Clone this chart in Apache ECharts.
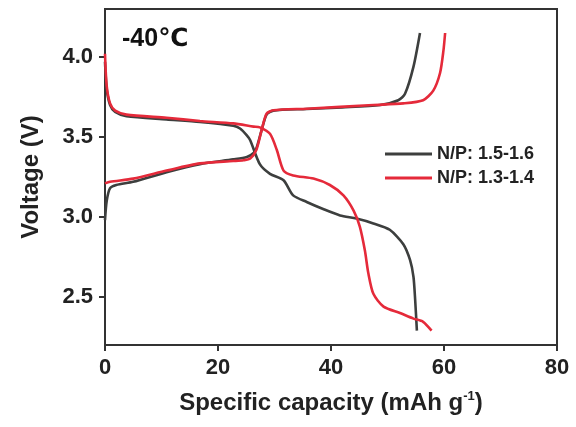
<!DOCTYPE html>
<html>
<head>
<meta charset="utf-8">
<script src="https://cdn.jsdelivr.net/npm/echarts@6/dist/echarts.min.js"></script>
<style>html,body{margin:0;padding:0;background:#fff}#c{width:576px;height:427px}</style>
</head>
<body>
<div id="c"></div>
<script>
// Data: [specific capacity (mAh/g), voltage (V)]
const seriesNames = ['N/P: 1.5-1.6', 'N/P: 1.3-1.4'];
const xTicks = [0, 20, 40, 60, 80];
const yTicks = [2.5, 3.0, 3.5, 4.0];
const annotation = '-40℃';

const blackCharge = [[0,2.98],[0.3,3.1],[0.9,3.18],[2,3.2],[5,3.22],[10.9,3.28],[16.8,3.33],[22.7,3.36],[25.1,3.375],[26.3,3.40],[26.8,3.43],[27.7,3.54],[28.6,3.64],[29.8,3.665],[35.7,3.675],[42,3.685],[48.7,3.70],[51.9,3.73],[53.1,3.77],[54.6,3.94],[55.75,4.15]];
const blackDischarge = [[0,3.97],[0.3,3.80],[0.9,3.70],[1.8,3.656],[3.8,3.63],[10.9,3.61],[16.8,3.594],[22.7,3.57],[23.9,3.553],[25.1,3.51],[25.7,3.48],[27.4,3.33],[29.2,3.27],[31.6,3.23],[33.3,3.135],[35.7,3.094],[38.6,3.05],[41.6,3.01],[44.5,2.99],[47.5,2.96],[50.4,2.92],[52.8,2.83],[54.0,2.73],[54.6,2.625],[54.9,2.48],[55.2,2.29]];
const redCharge = [[0,3.21],[0.9,3.22],[5,3.24],[10.9,3.29],[16.8,3.335],[22.7,3.35],[24.5,3.355],[25.7,3.365],[26.8,3.42],[27.7,3.54],[28.6,3.646],[29.8,3.667],[35.7,3.677],[47.5,3.70],[52.8,3.71],[56.3,3.73],[58.1,3.79],[59.3,3.90],[59.9,4.04],[60.2,4.15]];
const redDischarge = [[0,4.02],[0.3,3.82],[0.9,3.71],[1.8,3.665],[3.8,3.64],[10.9,3.62],[16.8,3.60],[22.7,3.585],[26.3,3.565],[27.4,3.56],[29.2,3.52],[30.4,3.42],[31.6,3.29],[33.3,3.26],[36.9,3.24],[39.8,3.20],[42.2,3.135],[44.0,3.04],[45.1,2.94],[46.0,2.79],[46.6,2.65],[47.5,2.52],[49.3,2.44],[52.2,2.40],[54.6,2.365],[56.3,2.345],[57.8,2.29]];

const FONT = '"Liberation Sans", Arial, "DejaVu Sans", sans-serif';
const BLACK = '#3d3f3e';
const RED = '#e52a3a';
const AXIS = '#333333';

const chart = echarts.init(document.getElementById('c'), null, {renderer: 'canvas'});

function lineSeries(name, data, color) {
  return {
    name: name, type: 'line', data: data, showSymbol: false, symbol: 'none',
    smooth: 0.25, lineStyle: {color: color, width: 2.6}, itemStyle: {color: color},
    animation: false
  };
}

chart.setOption({
  animation: false,
  backgroundColor: '#fff',
  title: {
    text: annotation, left: 117, top: 22,
    textStyle: {fontFamily: FONT, fontSize: 25, fontWeight: 'bold', color: '#111'}
  },
  grid: {left: 105, right: 19, top: 9, bottom: 82, show: true, borderColor: AXIS, borderWidth: 2, outerBoundsMode: 'none', containLabel: false},
  legend: {
    orient: 'vertical', left: 380, top: 140, itemWidth: 47, itemHeight: 3, itemGap: 6,
    icon: 'rect',
    data: seriesNames,
    textStyle: {fontFamily: FONT, fontSize: 18, fontWeight: 'bold', color: '#222'}
  },
  xAxis: {
    type: 'value', min: xTicks[0], max: xTicks[xTicks.length - 1], interval: 20,
    name: 'Specific capacity (mAh g{sup|-1})',
    nameLocation: 'middle', nameGap: 45,
    nameTextStyle: {fontFamily: FONT, fontSize: 24, fontWeight: 'bold', color: '#222',
      rich: {sup: {fontFamily: FONT, fontSize: 13, fontWeight: 'bold', color: '#222', verticalAlign: 'top', padding: [0, 0, 14, 0]}}},
    axisLine: {show: true, lineStyle: {color: AXIS, width: 2}},
    axisTick: {show: true, inside: false, length: 6, lineStyle: {color: AXIS, width: 2}},
    axisLabel: {fontFamily: FONT, fontSize: 22, fontWeight: 'bold', color: '#222', margin: 12},
    splitLine: {show: false}
  },
  yAxis: {
    type: 'value', min: 2.2, max: 4.3,
    name: 'Voltage (V)', nameLocation: 'middle', nameGap: 62,
    nameTextStyle: {fontFamily: FONT, fontSize: 24, fontWeight: 'bold', color: '#222'},
    axisLine: {show: true, lineStyle: {color: AXIS, width: 2}},
    axisTick: {show: true, inside: false, length: 6, customValues: yTicks, lineStyle: {color: AXIS, width: 2}},
    axisLabel: {fontFamily: FONT, fontSize: 22, fontWeight: 'bold', color: '#222', margin: 12,
      customValues: yTicks, formatter: v => v.toFixed(1)},
    splitLine: {show: false}
  },
  series: [
    lineSeries(seriesNames[0], blackCharge, BLACK),
    lineSeries(seriesNames[0], blackDischarge, BLACK),
    lineSeries(seriesNames[1], redCharge, RED),
    lineSeries(seriesNames[1], redDischarge, RED)
  ]
});
</script>
</body>
</html>
